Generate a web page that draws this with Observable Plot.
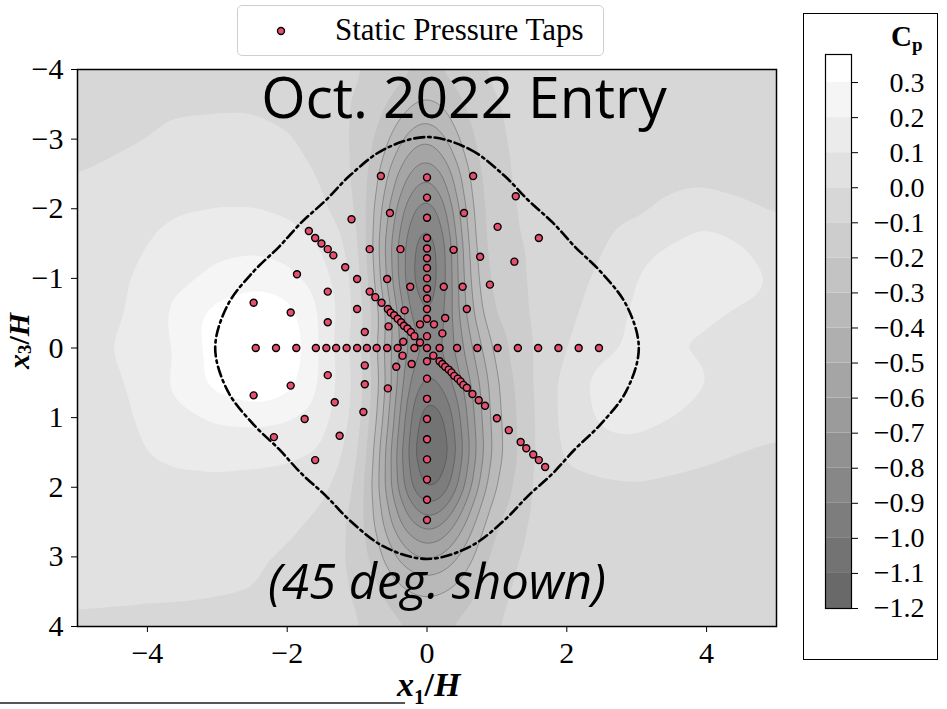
<!DOCTYPE html>
<html>
<head>
<meta charset="utf-8">
<script src="https://cdn.jsdelivr.net/npm/d3@7"></script>
<script src="https://cdn.jsdelivr.net/npm/@observablehq/plot@0.6"></script>
<style>
  html, body { margin: 0; padding: 0; background: #fff; }
  #wrap { position: relative; width: 947px; height: 709px; overflow: hidden; background: #fff; }
  .abs { position: absolute; }
  #legend { left: 237px; top: 5px; width: 367px; height: 51px; border: 1px solid #cfcfcf; border-radius: 5px; box-sizing: border-box; background: #fff; }
  #legend svg { position: absolute; left: 36px; top: 18px; }
  #legend span { position: absolute; left: 97px; top: 6px; font-family: "Liberation Serif", serif; font-size: 31px; white-space: nowrap; }
  #cbox { left: 803px; top: 13px; width: 135px; height: 647px; border: 1.5px solid #000; box-sizing: border-box; }
  #cptitle { left: 891px; top: 20px; font-family: "Liberation Serif", serif; font-weight: bold; font-size: 29px; }
  #cptitle sub { font-size: 19px; vertical-align: -5px; }
  #xlabel { left: 397px; top: 666px; font-family: "Liberation Serif", serif; font-size: 34px; font-weight: bold; white-space: nowrap; }
  #ylabel { left: 4px; top: 296px; height: 90px; width: 30px; line-height: 30px; writing-mode: vertical-rl; transform: rotate(180deg); text-align: center; font-family: "Liberation Serif", serif; font-size: 30px; font-weight: bold; white-space: nowrap; }
  #ylabel sub { font-size: 19px; vertical-align: baseline; position: relative; left: -6px; }
  sub { font-size: 21px; font-weight: bold; font-style: normal; }
  #artifact { left: 0; top: 702px; width: 405px; height: 2px; background: #555; }
</style>
</head>
<body>
<div id="wrap">
  <div id="main" class="abs" style="left:0;top:0"></div>
  <div id="legend" class="abs">
    <svg width="14" height="14"><circle cx="7" cy="7" r="3.5" fill="#e6506e" stroke="#000" stroke-width="1.4"></circle></svg>
    <span>Static Pressure Taps</span>
  </div>
  <div id="cbox" class="abs"><div id="cbar" class="abs" style="left:0;top:0"></div></div>
  <div id="cptitle" class="abs">C<sub>p</sub></div>
  <div id="xlabel" class="abs"><i>x</i><sub>1</sub>/<i>H</i></div>
  <div id="ylabel" class="abs"><i>x</i><sub>3</sub>/<i>H</i></div>
  <div id="artifact" class="abs"></div>
</div>
<script>
// ---------- data ----------
const xTicks = [-4, -2, 0, 2, 4];
const yTicks = [-4, -3, -2, -1, 0, 1, 2, 3, 4];
const cpLevels = [-1.2, -1.1, -1.0, -0.9, -0.8, -0.7, -0.6, -0.5, -0.4, -0.3, -0.2, -0.1, 0.0, 0.1, 0.2, 0.3];
const cbTop = 0.38;

const titleText = "Oct. 2022 Entry";
const noteText = "(45 deg. shown)";

// Cp field on a grid
const gridX = [-5, -4.5, -4, -3.5, -3, -2.5, -2, -1.5, -1, -0.75, -0.5, -0.25, 0, 0.25, 0.5, 0.75, 1, 1.5, 2, 2.5, 3, 3.5, 4, 4.5, 5];
const gridY = [-4, -3.5, -3, -2.5, -2, -1.5, -1, -0.5, 0, 0.5, 1, 1.5, 2, 2.5, 3, 3.5, 4];
const cpYm40 = [-0.04,-0.04,-0.04,-0.04,-0.04,-0.04,-0.05,-0.06,-0.09,-0.12,-0.15,-0.19,-0.21,-0.19,-0.15,-0.11,-0.08,-0.06,-0.05,-0.05,-0.05,-0.05,-0.05,-0.05,-0.05];
const cpYm35 = [-0.03,-0.03,-0.02,-0.01,-0.01,-0.01,-0.03,-0.06,-0.11,-0.16,-0.22,-0.29,-0.33,-0.29,-0.21,-0.14,-0.10,-0.07,-0.05,-0.05,-0.05,-0.05,-0.05,-0.05,-0.05];
const cpYm30 = [-0.02,-0.01,0.00,0.02,0.03,0.03,0.01,-0.04,-0.12,-0.20,-0.32,-0.45,-0.50,-0.42,-0.28,-0.17,-0.11,-0.07,-0.05,-0.05,-0.05,-0.05,-0.05,-0.05,-0.05];
const cpYm25 = [0.00,0.01,0.03,0.05,0.06,0.06,0.04,-0.01,-0.12,-0.25,-0.45,-0.62,-0.70,-0.60,-0.38,-0.20,-0.12,-0.07,-0.05,-0.05,-0.04,-0.03,-0.03,-0.04,-0.05];
const cpYm20 = [0.01,0.03,0.06,0.09,0.10,0.10,0.08,0.02,-0.10,-0.30,-0.55,-0.78,-0.88,-0.75,-0.45,-0.22,-0.13,-0.08,-0.06,-0.04,-0.02,0.02,0.05,0.02,-0.01];
const cpYm15 = [0.02,0.05,0.10,0.15,0.17,0.18,0.16,0.09,-0.06,-0.33,-0.62,-0.88,-0.98,-0.85,-0.50,-0.24,-0.13,-0.09,-0.06,-0.01,0.05,0.10,0.14,0.10,0.05];
const cpYm10 = [0.03,0.07,0.13,0.18,0.23,0.25,0.23,0.14,-0.03,-0.30,-0.60,-0.90,-1.00,-0.85,-0.52,-0.27,-0.15,-0.09,-0.04,0.02,0.10,0.17,0.20,0.15,0.08];
const cpYm05 = [0.04,0.08,0.14,0.24,0.34,0.40,0.34,0.18,-0.02,-0.22,-0.50,-0.82,-0.94,-0.82,-0.55,-0.32,-0.18,-0.09,-0.02,0.04,0.12,0.16,0.12,0.08,0.05];
const cpY00  = [0.06,0.10,0.15,0.22,0.36,0.45,0.38,0.18,-0.05,-0.25,-0.52,-0.72,-0.85,-0.80,-0.62,-0.42,-0.25,-0.10,0.00,0.07,0.12,0.10,0.08,0.06,0.04];
const cpYp05 = [0.04,0.08,0.14,0.24,0.34,0.40,0.34,0.18,-0.03,-0.22,-0.50,-0.82,-0.95,-0.88,-0.70,-0.50,-0.30,-0.10,0.04,0.14,0.22,0.16,0.10,0.06,0.04];
const cpYp10 = [0.03,0.07,0.12,0.18,0.22,0.23,0.21,0.14,-0.04,-0.25,-0.55,-0.90,-1.10,-1.02,-0.78,-0.52,-0.32,-0.11,0.04,0.12,0.14,0.10,0.07,0.04,0.02];
const cpYp15 = [0.02,0.06,0.10,0.12,0.13,0.13,0.12,0.09,-0.07,-0.30,-0.62,-0.95,-1.15,-1.08,-0.82,-0.55,-0.33,-0.11,0.02,0.06,0.06,0.04,0.02,0.00,-0.01];
const cpYp20 = [0.02,0.05,0.07,0.08,0.08,0.07,0.06,0.03,-0.11,-0.33,-0.62,-0.90,-1.05,-0.98,-0.75,-0.48,-0.28,-0.09,-0.03,-0.02,-0.01,-0.02,-0.03,-0.04,-0.05];
const cpYp25 = [0.03,0.04,0.05,0.05,0.05,0.04,0.02,-0.02,-0.14,-0.30,-0.52,-0.70,-0.78,-0.72,-0.55,-0.35,-0.20,-0.08,-0.05,-0.05,-0.05,-0.05,-0.05,-0.05,-0.05];
const cpYp30 = [0.03,0.03,0.03,0.03,0.02,0.01,-0.01,-0.05,-0.13,-0.24,-0.38,-0.48,-0.52,-0.48,-0.38,-0.26,-0.15,-0.07,-0.05,-0.05,-0.05,-0.05,-0.05,-0.05,-0.05];
const cpYp35 = [0.03,0.03,0.02,0.02,0.01,0.00,-0.02,-0.06,-0.11,-0.17,-0.25,-0.30,-0.32,-0.30,-0.26,-0.19,-0.12,-0.06,-0.05,-0.05,-0.05,-0.05,-0.05,-0.05,-0.05];
const cpYp40 = [-0.03,-0.04,-0.04,-0.05,-0.05,-0.05,-0.05,-0.06,-0.09,-0.13,-0.17,-0.20,-0.21,-0.20,-0.18,-0.14,-0.10,-0.06,-0.05,-0.05,-0.05,-0.05,-0.05,-0.05,-0.05];
const cpRows = [cpYm40, cpYm35, cpYm30, cpYm25, cpYm20, cpYm15, cpYm10, cpYm05, cpY00, cpYp05, cpYp10, cpYp15, cpYp20, cpYp25, cpYp30, cpYp35, cpYp40];

// model outline (dash-dot)
const outlineX = [0, 0.62, 1.1, 1.45, 1.8, 2.12, 2.48, 2.85, 3.03, 2.85, 2.48, 2.12, 1.8, 1.45, 1.1, 0.62, 0, -0.62, -1.1, -1.45, -1.8, -2.12, -2.48, -2.85, -3.03, -2.85, -2.48, -2.12, -1.8, -1.45, -1.1, -0.62];
const outlineY = [-3.03, -2.85, -2.48, -2.12, -1.8, -1.45, -1.1, -0.62, 0, 0.62, 1.1, 1.45, 1.8, 2.12, 2.48, 2.85, 3.03, 2.85, 2.48, 2.12, 1.8, 1.45, 1.1, 0.62, 0, -0.62, -1.1, -1.45, -1.8, -2.12, -2.48, -2.85];

// static pressure taps
const tapX = [
  0,0,0,0,0,0,0,0,0,0,0,0,0,0,0,0,0,0,0,0,0,0,0,
  -2.45,-2.16,-1.87,-1.59,-1.44,-1.30,-1.15,-1.00,-0.86,-0.72,-0.57,-0.42,-0.18,0.18,0.43,0.72,1.01,1.30,1.59,1.88,2.17,2.46,
  -1.69,-1.60,-1.51,-1.42,-1.34,-1.17,-1.00,-0.82,-0.74,-0.65,-0.56,-0.52,-0.47,-0.42,-0.37,-0.33,-0.28,-0.23,-0.18,-0.10,
  0.09,0.18,0.22,0.26,0.31,0.35,0.39,0.44,0.48,0.52,0.57,0.65,0.74,0.83,1.00,1.17,1.34,1.42,1.52,1.60,1.69,
  -0.66,0.66,1.27,-0.53,0.53,-1.08,1.01,1.60,-0.82,-0.38,0.38,0.76,1.25,-1.86,-0.57,-0.24,0.24,0.51,0.90,-1.42,-2.48,-1.95,-1.42,-1.00,-0.32,0.57,-0.89,-0.55,-0.10,0.10,0.26,0.22,-0.34,
  -0.35,-0.89,-0.44,-0.22,-1.42,-0.89,-0.56,-1.95,-2.48,-1.32,-0.91,-1.75,-2.19,-1.25,-1.60
];
const tapY = [
  -2.45,-2.16,-1.87,-1.58,-1.43,-1.29,-1.15,-1.00,-0.85,-0.71,-0.56,-0.42,-0.17,0,0.19,0.44,0.73,1.02,1.31,1.60,1.89,2.18,2.47,
  0,0,0,0,0,0,0,0,0,0,0,0,0,0,0,0,0,0,0,0,0,0,
  -1.68,-1.58,-1.50,-1.42,-1.33,-1.16,-0.99,-0.81,-0.73,-0.65,-0.56,-0.51,-0.47,-0.42,-0.37,-0.32,-0.28,-0.23,-0.17,-0.08,
  0.11,0.19,0.23,0.27,0.31,0.35,0.40,0.44,0.48,0.53,0.57,0.66,0.75,0.83,1.01,1.18,1.35,1.44,1.53,1.61,1.71,
  -2.47,-2.47,-2.18,-1.94,-1.94,-1.85,-1.74,-1.58,-1.42,-1.42,-1.41,-1.31,-1.24,-1.06,-0.99,-0.88,-0.88,-0.88,-0.91,-0.81,-0.65,-0.51,-0.37,-0.56,-0.54,-0.56,-0.23,-0.31,-0.34,-0.34,-0.43,-0.21,-0.09,
  0.11,0.25,0.27,0.23,0.39,0.52,0.58,0.54,0.68,0.78,0.92,1.02,1.28,1.26,1.61
];

// ---------- tables built from the arrays ----------
const samples = [];
gridY.forEach((y, i) => gridX.forEach((x, j) => samples.push({x, y, cp: cpRows[i][j]})));
const outline = outlineX.map((x, i) => ({x, y: outlineY[i]}));
const taps = tapX.map((x, i) => ({x, y: tapY[i]}));

const fmtInt = d3.format("d");
const fmtCb = d3.format(".1f");
const grayScale = {type: "linear", domain: [-1.2, 0.3], range: ["#696969", "#ffffff"]};
const serif = "Liberation Serif, serif";

const main = Plot.plot({
  width: 790, height: 709,
  marginLeft: 77, marginRight: 14, marginTop: 69, marginBottom: 83,
  x: {domain: [-5, 5]},
  y: {domain: [-4, 4], reverse: true},
  color: grayScale,
  style: {fontFamily: serif, fontSize: "30px", color: "#000", background: "transparent", overflow: "visible"},
  marks: [
    Plot.contour(samples, {x: "x", y: "y", fill: "cp", thresholds: cpLevels, interpolate: "barycentric", blur: 4, pixelSize: 2, stroke: "none"}),
    Plot.contour(samples, {x: "x", y: "y", value: "cp", thresholds: cpLevels.filter(t => t <= -0.3), interpolate: "barycentric", blur: 4, pixelSize: 2, fill: "none", stroke: "#333", strokeOpacity: 0.45, strokeWidth: 0.8}),
    Plot.line(outline, {x: "x", y: "y", curve: "catmull-rom-closed", stroke: "#000", strokeWidth: 2.6, strokeDasharray: "10,4,2.5,4"}),
    Plot.dot(taps, {x: "x", y: "y", r: 3.5, fill: "#e6506e", stroke: "#000", strokeWidth: 1.4}),
    Plot.text([titleText], {frameAnchor: "top", dx: 37, dy: 8, fontFamily: "Open Sans", fontSize: 57, fill: "#000"}),
    Plot.text([noteText], {frameAnchor: "bottom", dx: 10, dy: -28, fontFamily: "Open Sans", fontStyle: "italic", fontSize: 49, fill: "#000"}),
    Plot.frame({stroke: "#000", strokeWidth: 1.5}),
    Plot.axisX(xTicks, {tickFormat: fmtInt, tickSize: 6, tickPadding: 9, label: null}),
    Plot.axisY(yTicks, {tickFormat: fmtInt, tickSize: 6, tickPadding: 8, label: null})
  ]
});
document.getElementById("main").appendChild(main);

const cbar = Plot.plot({
  width: 132, height: 644,
  marginLeft: 21, marginRight: 85, marginTop: 40, marginBottom: 50,
  x: {domain: [0, 1], axis: null},
  y: {domain: [-1.2, cbTop]},
  color: grayScale,
  style: {fontFamily: serif, fontSize: "28px", color: "#000", background: "transparent", overflow: "visible"},
  marks: [
    Plot.rect(cpLevels, {x1: 0, x2: 1, y1: d => d, y2: d => Math.min(d + 0.1, cbTop), fill: d => d}),
    Plot.frame({stroke: "#000", strokeWidth: 1.2}),
    Plot.axisY(cpLevels, {anchor: "right", tickSize: 6, tickFormat: () => "", label: null}),
    Plot.text(cpLevels, {y: d => d, text: d => fmtCb(d), frameAnchor: "right", textAnchor: "end", dx: 73, fontSize: 28, fill: "#000"})
  ]
});
document.getElementById("cbar").appendChild(cbar);
</script>
</body>
</html>
